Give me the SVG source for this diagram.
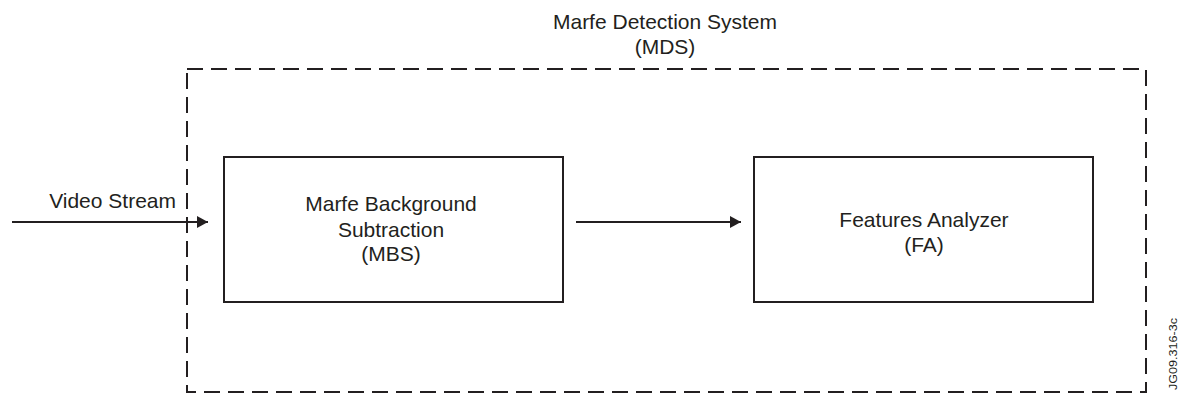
<svg xmlns="http://www.w3.org/2000/svg" width="1181" height="394" viewBox="0 0 1181 394">
  <defs>
    <marker id="arrow" markerWidth="12" markerHeight="12" refX="11" refY="6" orient="auto" markerUnits="userSpaceOnUse">
      <path d="M0,0 L11,6 L0,12 Z" fill="#231f20"/>
    </marker>
    <style>
      text { font-family: "Liberation Sans", Arial, sans-serif; fill: #231f20; }
      .lbl { font-size: 21px; text-anchor: middle; }
      .box { fill: #ffffff; stroke: #231f20; stroke-width: 2; }
      .sys { fill: none; stroke: #231f20; stroke-width: 2; stroke-dasharray: 16 8; }
      .conn { fill: none; stroke: #231f20; stroke-width: 2; }
    </style>
  </defs>
  <rect width="1181" height="394" fill="#ffffff"/>

  <!-- system boundary -->
  <g id="mds">
    <rect class="sys" x="187" y="69" width="959" height="323"/>
    <text class="lbl" x="665" y="29">Marfe Detection System</text>
    <text class="lbl" x="665" y="54">(MDS)</text>
  </g>

  <g id="mbs">
    <rect class="box" x="224" y="157" width="339" height="145"/>
    <text class="lbl" x="391" y="211">Marfe Background</text>
    <text class="lbl" x="391" y="237">Subtraction</text>
    <text class="lbl" x="391" y="261">(MBS)</text>
  </g>

  <g id="fa">
    <rect class="box" x="754" y="157" width="339" height="145"/>
    <text class="lbl" x="924" y="227">Features Analyzer</text>
    <text class="lbl" x="924" y="252">(FA)</text>
  </g>

  <g id="connectors">
    <line class="conn" x1="12" y1="222" x2="208" y2="222" marker-end="url(#arrow)"/>
    <text x="176" y="208" style="font-size:21px;text-anchor:end">Video Stream</text>
    <line class="conn" x1="576" y1="222" x2="741" y2="222" marker-end="url(#arrow)"/>
  </g>

  <text x="1177" y="390" transform="rotate(-90 1177 390)" style="font-size:10px" textLength="72" lengthAdjust="spacingAndGlyphs">JG09.316-3c</text>
</svg>
